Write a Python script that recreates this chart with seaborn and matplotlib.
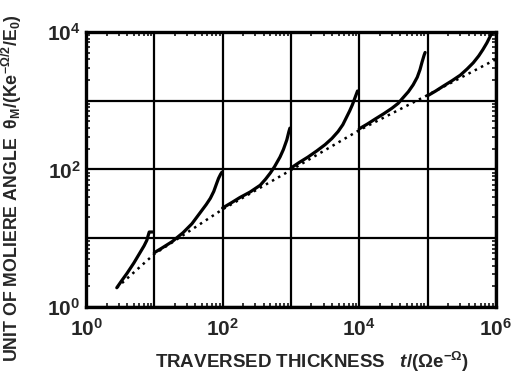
import numpy as np
import pandas as pd
import matplotlib
matplotlib.use("Agg")
import matplotlib.pyplot as plt
import matplotlib.ticker as mticker
import seaborn as sns

# Solid curve, one branch per decade; values given as decimal exponents
seg1_logt = [0.45, 0.52, 0.60, 0.70, 0.79, 0.85, 0.89, 0.91, 0.925, 0.975]
seg1_logth = [0.28, 0.38, 0.49, 0.64, 0.79, 0.89, 0.97, 1.04, 1.09, 1.09]
seg2_logt = [1.0, 1.1, 1.26, 1.42, 1.55, 1.67, 1.76, 1.82, 1.87, 1.91, 1.94, 1.97, 1.99]
seg2_logth = [0.79, 0.85, 0.95, 1.08, 1.21, 1.37, 1.49, 1.58, 1.68, 1.79, 1.87, 1.93, 1.96]
seg3_logt = [2.0, 2.12, 2.25, 2.4, 2.55, 2.63, 2.7, 2.76, 2.84, 2.89, 2.94, 2.97, 2.985]
seg3_logth = [1.44, 1.51, 1.59, 1.67, 1.77, 1.86, 1.95, 2.04, 2.18, 2.29, 2.43, 2.55, 2.60]
seg4_logt = [3.0, 3.12, 3.25, 3.38, 3.5, 3.6, 3.69, 3.76, 3.81, 3.86, 3.9, 3.93, 3.96, 3.975]
seg4_logth = [2.02, 2.10, 2.18, 2.27, 2.36, 2.45, 2.55, 2.65, 2.75, 2.85, 2.94, 3.02, 3.10, 3.14]
seg5_logt = [4.0, 4.12, 4.23, 4.36, 4.48, 4.57, 4.64, 4.72, 4.79, 4.85, 4.89, 4.92, 4.95, 4.965]
seg5_logth = [2.59, 2.66, 2.73, 2.81, 2.89, 2.96, 3.04, 3.13, 3.23, 3.34, 3.45, 3.56, 3.66, 3.70]
seg6_logt = [5.0, 5.12, 5.23, 5.36, 5.48, 5.58, 5.67, 5.75, 5.81, 5.87, 5.92, 5.96]
seg6_logth = [3.07, 3.14, 3.21, 3.29, 3.37, 3.46, 3.55, 3.65, 3.74, 3.84, 3.94, 4.0]

# Dotted asymptotic curve
asym_logt = [0.45, 1.0, 2.0, 3.0, 4.0, 5.0, 6.0]
asym_logth = [0.28, 0.77, 1.42, 1.99, 2.57, 3.08, 3.60]

segments = [(seg1_logt, seg1_logth), (seg2_logt, seg2_logth),
            (seg3_logt, seg3_logth), (seg4_logt, seg4_logth),
            (seg5_logt, seg5_logth), (seg6_logt, seg6_logth)]
solid = pd.concat(
    [pd.DataFrame({"t": 10.0 ** np.array(lt), "theta": 10.0 ** np.array(lth),
                   "branch": i})
     for i, (lt, lth) in enumerate(segments)],
    ignore_index=True)
asym = pd.DataFrame({"t": 10.0 ** np.array(asym_logt),
                     "theta": 10.0 ** np.array(asym_logth)})

sns.set_style("white")
plt.rcParams["font.family"] = ["Liberation Sans", "DejaVu Sans"]
plt.rcParams["font.weight"] = "bold"
plt.rcParams["mathtext.fontset"] = "custom"
plt.rcParams["mathtext.rm"] = "Liberation Sans:bold"
plt.rcParams["mathtext.it"] = "Liberation Sans:bold:italic"
plt.rcParams["mathtext.bf"] = "Liberation Sans:bold"
plt.rcParams["mathtext.default"] = "rm"

fig = plt.figure(figsize=(5.28, 3.79), dpi=100)
ax = fig.add_axes([0.163, 0.19, 0.776, 0.726])

ax.set_xscale("log")
ax.set_yscale("log")

sns.lineplot(data=solid, x="t", y="theta", units="branch", estimator=None,
             color="black", linewidth=2.3, ax=ax, zorder=3)
sns.lineplot(data=asym, x="t", y="theta", color="black", linewidth=1.8,
             linestyle=(0, (1.0, 1.8)), ax=ax, zorder=3)

ax.set_xlim(1, 1e6)
ax.set_ylim(1, 1e4)

ax.xaxis.set_major_locator(mticker.FixedLocator([10.0 ** k for k in range(7)]))
ax.yaxis.set_major_locator(mticker.FixedLocator([10.0 ** k for k in range(5)]))


def even_power(v, pos):
    k = int(round(np.log10(v)))
    return rf"$10^{{{k}}}$" if k % 2 == 0 else ""


ax.xaxis.set_major_formatter(mticker.FuncFormatter(even_power))
ax.yaxis.set_major_formatter(mticker.FuncFormatter(even_power))
ax.xaxis.set_minor_locator(mticker.LogLocator(base=10, subs=np.arange(2, 10)))
ax.yaxis.set_minor_locator(mticker.LogLocator(base=10, subs=np.arange(2, 10)))
ax.xaxis.set_minor_formatter(mticker.NullFormatter())
ax.yaxis.set_minor_formatter(mticker.NullFormatter())

ax.grid(True, which="major", color="black", linewidth=1.6)
ax.tick_params(axis="x", which="major", length=0, labelsize=15, pad=8)
ax.tick_params(axis="y", which="major", length=0, labelsize=15, pad=4)
ax.tick_params(which="minor", direction="in", length=3, width=1.3,
               top=True, right=True, bottom=True, left=True)
for s in ax.spines.values():
    s.set_linewidth(2.4)
    s.set_color("black")

ax.set_xlabel(r"TRAVERSED THICKNESS   $\mathit{t}$/(Ωe$^{-Ω}$)",
              fontsize=13.5, fontweight="bold")
ax.set_ylabel(r"UNIT OF MOLIERE ANGLE  θ$_{M}$/(Ke$^{-Ω/2}$/E$_{0}$)",
              fontsize=12.8, fontweight="bold")
ax.xaxis.set_label_coords(0.551, -0.155)
ax.yaxis.set_label_coords(-0.151, 0.43)

fig.savefig("out.png", dpi=100, facecolor="white")
